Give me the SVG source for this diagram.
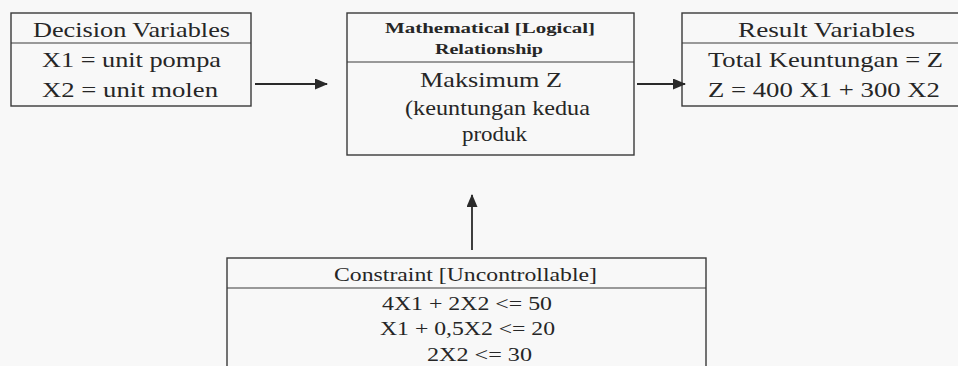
<svg xmlns="http://www.w3.org/2000/svg" width="958" height="366" viewBox="0 0 958 366">
<style>
.box{fill:none;stroke:#3a3a3a;stroke-width:1.4}
.div{stroke:#3a3a3a;stroke-width:1.2}
.t{font-family:"Liberation Serif","Times New Roman",serif;font-size:21px;fill:#262626;text-anchor:start}
.s{font-size:19px}
.b{font-weight:bold;font-size:15px}
.conn{stroke:#2a2a2a;stroke-width:1.8;fill:none;marker-end:url(#ah)}
</style>
<defs>
<marker id="ah" viewBox="0 0 13 11" refX="12" refY="5.5" markerWidth="13" markerHeight="11" markerUnits="userSpaceOnUse" orient="auto">
<path d="M0,0 L13,5.5 L0,11 Z" fill="#2a2a2a"/>
</marker>
</defs>
<rect x="0" y="0" width="958" height="366" fill="#f8f8f8"/>
<g id="decision">
<rect class="box" x="11" y="13" width="240" height="93"/>
<line class="div" x1="11" y1="43" x2="251" y2="43"/>
<text class="t" x="33" y="37" textLength="197" lengthAdjust="spacingAndGlyphs">Decision Variables</text>
<text class="t" x="42" y="67" textLength="179" lengthAdjust="spacingAndGlyphs">X1 = unit pompa</text>
<text class="t" x="42" y="97" textLength="176" lengthAdjust="spacingAndGlyphs">X2 = unit molen</text>
</g>
<g id="relationship">
<rect class="box" x="347" y="13" width="287" height="142"/>
<line class="div" x1="347" y1="62" x2="634" y2="62"/>
<text class="t b" x="385" y="33" textLength="210" lengthAdjust="spacingAndGlyphs">Mathematical [Logical]</text>
<text class="t b" x="435" y="54" textLength="108" lengthAdjust="spacingAndGlyphs">Relationship</text>
<text class="t" x="420" y="87" textLength="142" lengthAdjust="spacingAndGlyphs">Maksimum Z</text>
<text class="t" x="405" y="115" textLength="185" lengthAdjust="spacingAndGlyphs">(keuntungan kedua</text>
<text class="t" x="462" y="141" textLength="65" lengthAdjust="spacingAndGlyphs">produk</text>
</g>
<g id="result">
<rect class="box" x="682" y="13" width="290" height="93"/>
<line class="div" x1="682" y1="43" x2="958" y2="43"/>
<text class="t" x="738" y="37" textLength="177" lengthAdjust="spacingAndGlyphs">Result Variables</text>
<text class="t" x="708" y="67" textLength="235" lengthAdjust="spacingAndGlyphs">Total Keuntungan = Z</text>
<text class="t" x="708" y="97" textLength="232" lengthAdjust="spacingAndGlyphs">Z = 400 X1 + 300 X2</text>
</g>
<g id="constraint">
<rect class="box" x="227" y="258" width="479" height="130"/>
<line class="div" x1="227" y1="288" x2="706" y2="288"/>
<text class="t s" x="334" y="281" textLength="263" lengthAdjust="spacingAndGlyphs">Constraint [Uncontrollable]</text>
<text class="t s" x="382" y="310" textLength="170" lengthAdjust="spacingAndGlyphs">4X1 + 2X2 &lt;= 50</text>
<text class="t s" x="380" y="335" textLength="175" lengthAdjust="spacingAndGlyphs">X1 + 0,5X2 &lt;= 20</text>
<text class="t s" x="427" y="361" textLength="105" lengthAdjust="spacingAndGlyphs">2X2 &lt;= 30</text>
</g>
<g id="connectors">
<line class="conn" x1="255" y1="84" x2="327" y2="84"/>
<line class="conn" x1="637" y1="84" x2="685" y2="84"/>
<line class="conn" x1="472" y1="250" x2="472" y2="195"/>
</g>
</svg>
